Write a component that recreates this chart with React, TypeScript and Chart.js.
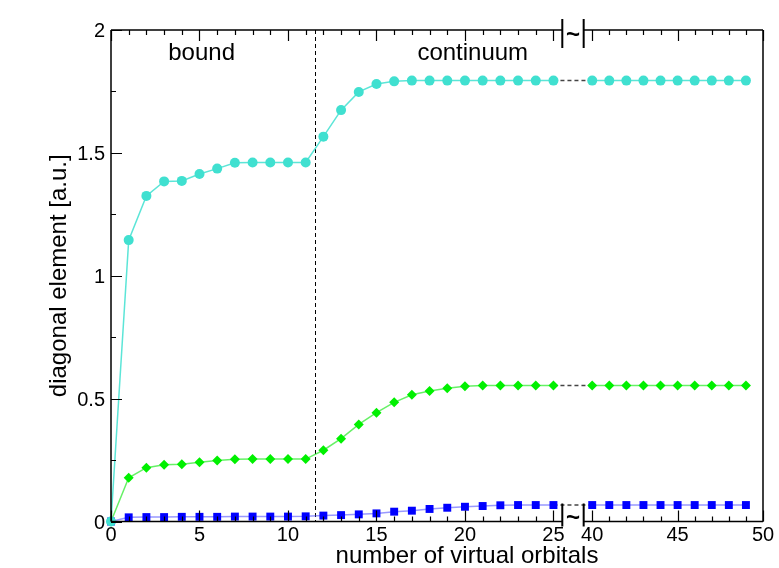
import { useEffect, useRef } from "react";
import { Chart, registerables } from "chart.js";

Chart.register(...registerables);

// ---- data ----
const orbitals = [
  0, 1, 2, 3, 4, 5, 6, 7, 8, 9, 10, 11, 12, 13, 14, 15, 16, 17, 18, 19, 20, 21, 22, 23, 24, 25,
  40, 41, 42, 43, 44, 45, 46, 47, 48, 49,
];
const cyanValues = [
  0, 1.145, 1.325, 1.384, 1.386, 1.414, 1.436, 1.46, 1.461, 1.461, 1.461, 1.461, 1.566, 1.674,
  1.748, 1.78, 1.791, 1.794, 1.794, 1.794, 1.794, 1.794, 1.794, 1.794, 1.794, 1.794,
  1.794, 1.794, 1.794, 1.794, 1.794, 1.794, 1.794, 1.794, 1.794, 1.794,
];
const greenValues = [
  0, 0.178, 0.219, 0.231, 0.233, 0.241, 0.248, 0.253, 0.254, 0.254, 0.254, 0.254, 0.29, 0.337,
  0.395, 0.443, 0.485, 0.516, 0.531, 0.542, 0.55, 0.553, 0.553, 0.553, 0.553, 0.553,
  0.553, 0.553, 0.553, 0.553, 0.553, 0.553, 0.553, 0.553, 0.553, 0.553,
];
const blueValues = [
  0, 0.017, 0.018, 0.018, 0.019, 0.019, 0.019, 0.02, 0.02, 0.02, 0.02, 0.021, 0.024, 0.026,
  0.029, 0.033, 0.04, 0.044, 0.051, 0.056, 0.06, 0.063, 0.066, 0.067, 0.067, 0.067,
  0.067, 0.067, 0.067, 0.067, 0.067, 0.067, 0.067, 0.067, 0.067, 0.067,
];
const xMajorTicks = [0, 5, 10, 15, 20, 25, 40, 45, 50];
const yMajorTicks = [0, 0.5, 1, 1.5, 2];
const yTickLabels = ["0", "0.5", "1", "1.5", "2"];
const yMinorTicks = [0.25, 0.75, 1.25, 1.75];
const regionLabels = ["bound", "continuum"];
const regionLabelX = [5.12, 20.44];
const boundaryX = 11.5;
const xTitle = "number of virtual orbitals";
const yTitle = "diagonal element [a.u.]";

// ---- broken axis mapping ----
const BREAK_LEFT = 25.5;
const BREAK_RIGHT = 39.5;
const RIGHT_START = 27.19;
const RIGHT_FACTOR = 0.965;
const mapX = (v: number) => (v <= 30 ? v : RIGHT_START + (v - 40) * RIGHT_FACTOR);
const X_MAX = mapX(50);
const gapIndex = orbitals.indexOf(25);

const FONT = "'Liberation Sans', Arial, Helvetica, sans-serif";

const axesPlugin = {
  id: "brokenAxes",
  beforeDatasetsDraw(chart: any) {
    const { ctx, chartArea, scales } = chart;
    const { top, bottom } = chartArea;
    const px = scales.x.getPixelForValue(boundaryX);
    ctx.save();
    ctx.strokeStyle = "#000";
    ctx.lineWidth = 1;
    ctx.setLineDash([4, 3]);
    ctx.beginPath();
    ctx.moveTo(Math.round(px) + 0.5, top);
    ctx.lineTo(Math.round(px) + 0.5, bottom);
    ctx.stroke();
    ctx.restore();
  },
  afterDatasetsDraw(chart: any) {
    const { ctx, chartArea, scales } = chart;
    const { left, right, top, bottom } = chartArea;
    const xs = scales.x;
    const ys = scales.y;
    const bL = xs.getPixelForValue(BREAK_LEFT);
    const bR = xs.getPixelForValue(mapX(BREAK_RIGHT));
    ctx.save();
    ctx.strokeStyle = "#000";
    ctx.lineWidth = 1.5;
    ctx.setLineDash([]);
    // frame
    ctx.beginPath();
    ctx.moveTo(left, top);
    ctx.lineTo(left, bottom);
    ctx.moveTo(right, top);
    ctx.lineTo(right, bottom);
    ctx.moveTo(left, top);
    ctx.lineTo(bL, top);
    ctx.moveTo(bR, top);
    ctx.lineTo(right, top);
    ctx.moveTo(left, bottom);
    ctx.lineTo(bL, bottom);
    ctx.moveTo(bR, bottom);
    ctx.lineTo(right, bottom);
    ctx.stroke();

    // x ticks
    ctx.lineWidth = 1.2;
    ctx.beginPath();
    const tickRanges = [
      [0, 25],
      [40, 50],
    ];
    for (const [a, b] of tickRanges) {
      for (let v = a; v <= b; v++) {
        const p = Math.round(xs.getPixelForValue(mapX(v))) + 0.5;
        const len = v % 5 === 0 ? 11 : 5;
        ctx.moveTo(p, bottom);
        ctx.lineTo(p, bottom - len);
        ctx.moveTo(p, top);
        ctx.lineTo(p, top + len);
      }
    }
    // y ticks
    for (const v of yMajorTicks) {
      const p = Math.round(ys.getPixelForValue(v)) + 0.5;
      ctx.moveTo(left, p);
      ctx.lineTo(left + 11, p);
    }
    for (const v of yMinorTicks) {
      const p = Math.round(ys.getPixelForValue(v)) + 0.5;
      ctx.moveTo(left, p);
      ctx.lineTo(left + 5, p);
    }
    ctx.stroke();

    // break marks
    ctx.lineWidth = 2;
    ctx.beginPath();
    for (const bx of [bL, bR]) {
      ctx.moveTo(bx, top - 11);
      ctx.lineTo(bx, top + 18);
      ctx.moveTo(bx, bottom - 18);
      ctx.lineTo(bx, bottom + 5);
    }
    ctx.stroke();
    ctx.fillStyle = "#000";
    ctx.font = `bold 24px ${FONT}`;
    ctx.textAlign = "center";
    ctx.textBaseline = "middle";
    ctx.fillText("~", (bL + bR) / 2, top + 5);
    ctx.fillText("~", (bL + bR) / 2, bottom - 3);

    // tick labels
    ctx.font = `20px ${FONT}`;
    ctx.textBaseline = "alphabetic";
    ctx.textAlign = "center";
    for (const v of xMajorTicks) {
      ctx.fillText(String(v), xs.getPixelForValue(mapX(v)), bottom + 19.5);
    }
    ctx.textAlign = "right";
    yMajorTicks.forEach((v, i) => {
      ctx.fillText(yTickLabels[i], left - 6, ys.getPixelForValue(v) + 7);
    });

    // region labels
    ctx.font = `24px ${FONT}`;
    ctx.textAlign = "center";
    regionLabels.forEach((t, i) => {
      ctx.fillText(t, xs.getPixelForValue(regionLabelX[i]), 60);
    });

    // axis titles
    ctx.fillText(xTitle, (left + right) / 2 + 30, 563);
    ctx.save();
    ctx.translate(66, (top + bottom) / 2);
    ctx.rotate(-Math.PI / 2);
    ctx.textAlign = "center";
    ctx.fillText(yTitle, 0, 0);
    ctx.restore();

    ctx.restore();
  },
};

function makeDataset(values: number[], color: string, lineColor: string, pointStyle: string, radius: number) {
  return {
    data: orbitals.map((o, i) => ({ x: mapX(o), y: values[i] })),
    borderColor: lineColor,
    backgroundColor: color,
    pointBackgroundColor: color,
    pointBorderColor: color,
    pointBorderWidth: 0,
    pointStyle,
    pointRadius: radius,
    borderWidth: 1.5,
    tension: 0,
    clip: false as any,
    segment: {
      borderColor: (c: any) => (c.p0DataIndex === gapIndex ? "#444" : undefined),
      borderDash: (c: any) => (c.p0DataIndex === gapIndex ? [4, 3] : undefined),
    },
  };
}

export default function App() {
  const ref = useRef<HTMLCanvasElement | null>(null);
  useEffect(() => {
    document.body.style.margin = "0";
    const canvas = ref.current!;
    const chart = new Chart(canvas, {
      type: "line",
      data: {
        datasets: [
          makeDataset(cyanValues, "#40E0D0", "rgba(64,224,208,0.85)", "circle", 5),
          makeDataset(greenValues, "#00F000", "rgba(0,230,0,0.6)", "rectRot", 5),
          makeDataset(blueValues, "#0000FF", "rgba(70,70,255,0.55)", "rect", 5.6),
        ] as any,
      },
      options: {
        animation: false,
        responsive: false,
        devicePixelRatio: 1,
        layout: { padding: { left: 111, right: 16, top: 30, bottom: 46.5 } },
        plugins: { legend: { display: false }, tooltip: { enabled: false } },
        scales: {
          x: { type: "linear", min: 0, max: X_MAX, display: false },
          y: { type: "linear", min: 0, max: 2, display: false },
        },
      },
      plugins: [axesPlugin],
    });
    return () => chart.destroy();
  }, []);
  return (
    <div style={{ width: 779, height: 568, background: "#fff" }}>
      <canvas ref={ref} width={779} height={568} style={{ display: "block" }} />
    </div>
  );
}
